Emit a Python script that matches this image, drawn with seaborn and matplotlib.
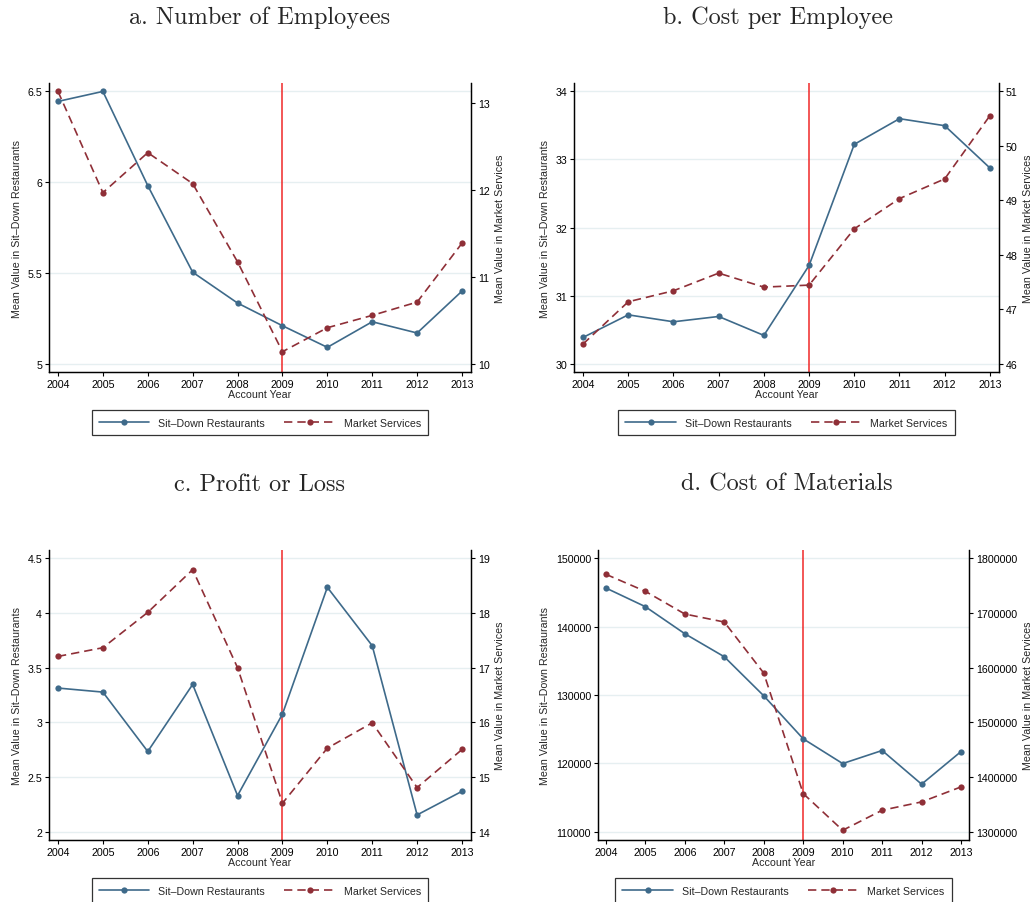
# -*- coding: utf-8 -*-
"""
Sit-down restaurants vs market services, 2004-2013 (four panels, twin y axes)
"""
import matplotlib
matplotlib.use("Agg")
import matplotlib.pyplot as plt
import seaborn as sns
import pandas as pd

# ===================== data =====================
years = [2004, 2005, 2006, 2007, 2008, 2009, 2010, 2011, 2012, 2013]

titles = ["a. Number of Employees", "b. Cost per Employee",
          "c. Profit or Loss", "d. Cost of Materials"]

# Sit-Down Restaurants (left axis)
emp_rest = [6.445, 6.500, 5.981, 5.504, 5.334, 5.209, 5.090, 5.231, 5.169, 5.400]
cost_rest = [30.386, 30.718, 30.616, 30.694, 30.416, 31.443, 33.222, 33.599, 33.496, 32.875]
profit_rest = [3.313, 3.276, 2.733, 3.346, 2.330, 3.075, 4.234, 3.700, 2.153, 2.369]
mat_rest = [145650, 142920, 138960, 135590, 129880, 123580, 119960, 121870, 116940, 121720]

# Market Services (right axis)
emp_mkt = [13.134, 11.969, 12.429, 12.073, 11.172, 10.138, 10.414, 10.556, 10.709, 11.387]
cost_mkt = [46.361, 47.137, 47.339, 47.663, 47.406, 47.443, 48.476, 49.032, 49.393, 50.554]
profit_mkt = [17.205, 17.364, 18.011, 18.792, 16.998, 14.519, 15.527, 15.990, 14.806, 15.502]
mat_mkt = [1770700, 1739560, 1698050, 1683390, 1589990, 1369600, 1302440, 1339070, 1354340, 1381810]

# ticks
left_ticks = [[5, 5.5, 6, 6.5], [30, 31, 32, 33, 34], [2, 2.5, 3, 3.5, 4, 4.5],
              [110000, 120000, 130000, 140000, 150000]]
left_ticklabels = [["5", "5.5", "6", "6.5"], ["30", "31", "32", "33", "34"],
                   ["2", "2.5", "3", "3.5", "4", "4.5"],
                   ["110000", "120000", "130000", "140000", "150000"]]
right_ticks = [[10, 11, 12, 13], [46, 47, 48, 49, 50, 51], [14, 15, 16, 17, 18, 19],
               [1300000, 1400000, 1500000, 1600000, 1700000, 1800000]]
right_ticklabels = [[str(t) for t in r] for r in right_ticks]

left_lims = [(4.954, 6.546), (29.878, 34.122), (1.924, 4.576), (108779, 151221)]
right_lims = [(9.904, 13.23), (45.847, 51.153), (13.847, 19.153), (1284737, 1815263)]

rest_series = [emp_rest, cost_rest, profit_rest, mat_rest]
mkt_series = [emp_mkt, cost_mkt, profit_mkt, mat_mkt]

# ===================== style =====================
sns.set_style("ticks")
plt.rcParams["font.family"] = ["Liberation Sans", "DejaVu Sans"]
plt.rcParams["axes.unicode_minus"] = False

BLUE = "#3e6a8a"
RED = "#8f2f37"
VLINE = "#f02828"
GRID = "#e6eff1"
FS = 7.7

fig = plt.figure(figsize=(10.34, 9.03), dpi=100)

# axes positions (figure fraction)
positions = [
    [0.0474, 0.5869, 0.4081, 0.3200],
    [0.5551, 0.5869, 0.4110, 0.3200],
    [0.0474, 0.0687, 0.4081, 0.3212],
    [0.5783, 0.0687, 0.3588, 0.3212],
]
title_xy = [(0.251, 0.980), (0.752, 0.980), (0.251, 0.463), (0.761, 0.463)]

for i in range(4):
    ax = fig.add_axes(positions[i])
    ax2 = ax.twinx()

    df = pd.DataFrame({"year": years, "rest": rest_series[i], "mkt": mkt_series[i]})

    # grid on left axis
    ax.set_axisbelow(True)
    ax.yaxis.grid(True, color=GRID, linewidth=1.0)

    ax.axvline(2009, color=VLINE, linewidth=1.1, zorder=1)

    sns.lineplot(data=df, x="year", y="rest", ax=ax, color=BLUE, linewidth=1.2,
                 marker="o", markersize=4.5, markeredgewidth=0, label="Sit–Down Restaurants",
                 legend=False, zorder=3)
    sns.lineplot(data=df, x="year", y="mkt", ax=ax2, color=RED, linewidth=1.2,
                 linestyle=(0, (5, 3)), marker="o", markersize=4.5, markeredgewidth=0,
                 label="Market Services", legend=False, zorder=3)

    ax.set_xlim(2003.8, 2013.2)
    ax.set_xticks(years)
    ax.set_xticklabels([str(y) for y in years], fontsize=FS)

    ax.set_ylim(*left_lims[i])
    ax.set_yticks(left_ticks[i])
    ax.set_yticklabels(left_ticklabels[i], fontsize=FS)
    ax2.set_ylim(*right_lims[i])
    ax2.set_yticks(right_ticks[i])
    ax2.set_yticklabels(right_ticklabels[i], fontsize=FS)

    ax.set_xlabel("Account Year", fontsize=FS, labelpad=0)
    ax.set_ylabel("Mean Value in Sit–Down Restaurants", fontsize=FS, labelpad=4)
    ax2.set_ylabel("Mean Value in Market Services", fontsize=FS, labelpad=4)

    for a in (ax, ax2):
        a.spines["top"].set_visible(False)
        for s in ("left", "right", "bottom"):
            a.spines[s].set_linewidth(0.9)
            a.spines[s].set_color("black")
        a.tick_params(length=3, width=0.8, pad=2, colors="black")
    ax.spines["right"].set_visible(True)

    # combined legend below axes
    h1, l1 = ax.get_legend_handles_labels()
    h2, l2 = ax2.get_legend_handles_labels()
    leg = ax.legend(h1 + h2, l1 + l2, loc="upper center", bbox_to_anchor=(0.5, -0.132),
                    ncol=2, frameon=True, fancybox=False, edgecolor="black",
                    fontsize=FS, handlelength=4.7, handletextpad=0.85,
                    columnspacing=1.8, borderpad=0.7, borderaxespad=0)
    leg.get_frame().set_linewidth(0.9)

    fig.text(title_xy[i][0], title_xy[i][1], titles[i], ha="center", va="center",
             fontsize=17.5, family="cmr10")

plt.savefig("out.png", dpi=100)
